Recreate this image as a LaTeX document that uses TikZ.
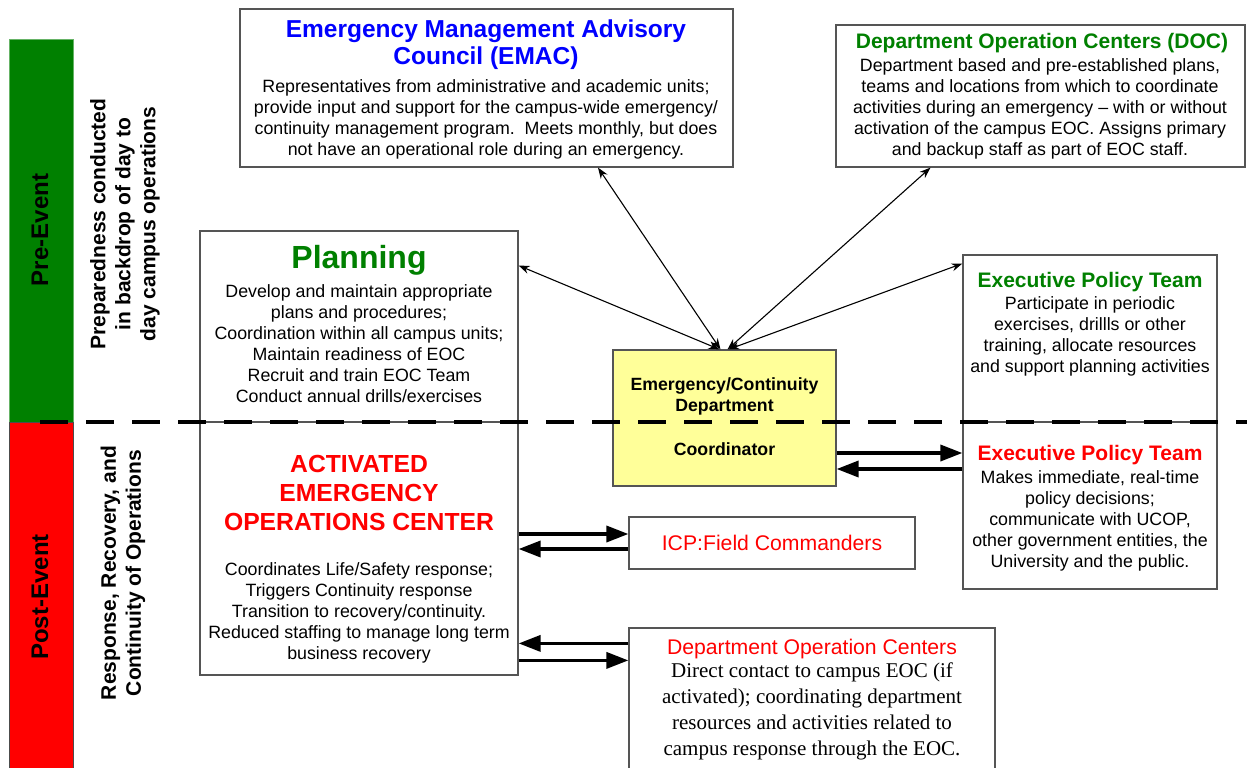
\documentclass[tikz,border=0pt]{standalone}
\usepackage{fontspec}
\setmainfont{Liberation Sans}
\newfontfamily\timesfont{Liberation Serif}
\usetikzlibrary{arrows.meta}

\definecolor{ttlgreen}{HTML}{008000}
\definecolor{ttlblue}{HTML}{0000FF}
\definecolor{ttlred}{HTML}{FF0000}
\definecolor{coordfill}{HTML}{FFFF99}
\definecolor{boxline}{HTML}{555555}

\tikzset{
  box/.style={draw=boxline, line width=1.2pt, fill=white, inner sep=0pt},
  phase/.style={rotate=90, font=\fontsize{24}{28}\selectfont\bfseries},
  side/.style={rotate=90, align=center, font=\fontsize{21}{25}\selectfont\bfseries},
  ttl/.style={align=center, inner sep=0pt, font=\fontsize{21}{24}\selectfont\bfseries},
  body/.style={align=center, inner sep=0pt, font=\fontsize{17.8}{21}\selectfont},
  thin arrow/.style={line width=1.1pt, {Stealth[length=11pt,width=8pt]}-{Stealth[length=11pt,width=8pt]}},
  fat arrow/.style={line width=3.5pt, -{Triangle[length=22pt,width=16pt]}},
}

\begin{document}
\begin{tikzpicture}[x=1pt,y=-1pt]
  \useasboundingbox (0,0) rectangle (1247,768);
  \clip (0,0) rectangle (1247,768);

  % phase bars on the left
  \filldraw[fill=ttlgreen, draw=ttlgreen!60!white, line width=1pt] (9,40) rectangle (73,422);
  \filldraw[fill=ttlred, draw=black!70, line width=1pt] (9,422) rectangle (73,790);
  \node[phase] (pre) at (40,230) {Pre-Event};
  \node[phase] (post) at (40,597) {Post-Event};
  \node[side] (preT) at (125,224) {Preparedness conducted\\in backdrop of day to\\day campus operations};
  \node[side] (postT) at (123,573) {Response, Recovery, and\\Continuity of Operations};

  % boxes
  \node[box, minimum width=493pt, minimum height=158pt] (emac) at (486.5,88) {};
  \node[box, minimum width=409pt, minimum height=142pt] (docA) at (1040.5,96) {};
  \node[box, minimum width=318pt, minimum height=191pt] (plan) at (359,326.5) {};
  \node[box, minimum width=318pt, minimum height=253pt] (eoc) at (359,548.5) {};
  \node[box, minimum width=254pt, minimum height=167pt] (eptA) at (1090,338.5) {};
  \node[box, minimum width=254pt, minimum height=167pt] (eptB) at (1090,505.5) {};
  \node[box, fill=coordfill, minimum width=223pt, minimum height=136pt] (coord) at (724.5,418) {};
  \node[box, minimum width=286pt, minimum height=52pt] (icp) at (772,543) {};
  \node[box, minimum width=366pt, minimum height=172pt] (docB) at (812,714) {};

  % pre / post divider
  \draw[line width=4pt, dash pattern=on 28pt off 18pt] (40,422) -- (1247,422);

  % texts
  \node[ttl, text=ttlblue, font=\fontsize{24.5}{27}\selectfont\bfseries] (emacT) at (486,44.5) {Emergency Management Advisory\\Council (EMAC)};
  \node[body] (emacB) at (486,119.5) {Representatives from administrative and academic units;\\provide input and support for the campus-wide emergency/\\continuity management program.\ \ Meets monthly, but does\\not have an operational role during an emergency.};

  \node[ttl, text=ttlgreen] (docAT) at (1042,43) {Department Operation Centers (DOC)};
  \node[body] (docAB) at (1040,108.5) {Department based and pre-established plans,\\teams and locations from which to coordinate\\activities during an emergency – with or without\\activation of the campus EOC. Assigns primary\\and backup staff as part of EOC staff.};

  \node[ttl, text=ttlgreen, font=\fontsize{32}{36}\selectfont\bfseries] (planT) at (359,260) {Planning};
  \node[body] (planB) at (359,343.5) {Develop and maintain appropriate\\plans and procedures;\\Coordination within all campus units;\\Maintain readiness of EOC\\Recruit and train EOC Team\\Conduct annual drills/exercises};

  \node[ttl, text=ttlred, font=\fontsize{24.7}{29}\selectfont\bfseries] (eocT) at (359,493) {ACTIVATED\\EMERGENCY\\OPERATIONS CENTER};
  \node[body] (eocB) at (359,613) {Coordinates Life/Safety response;\\Triggers Continuity response\\Transition to recovery/continuity.\\Reduced staffing to manage long term\\business recovery};

  \node[ttl, text=ttlgreen] (eptAT) at (1090,282) {Executive Policy Team};
  \node[body] (eptAB) at (1090,336.5) {Participate in periodic\\exercises, drillls or other\\training, allocate resources\\and support planning activities};

  \node[ttl, text=ttlred] (eptBT) at (1090,455) {Executive Policy Team};
  \node[body] (eptBB) at (1090,521) {Makes immediate, real-time\\policy decisions;\\communicate with UCOP,\\other government entities, the\\University and the public.};

  \node[ttl, font=\fontsize{17.7}{21}\selectfont\bfseries] (coordT) at (724.5,396.5) {Emergency/Continuity\\Department};
  \node[ttl, font=\fontsize{17.7}{21}\selectfont\bfseries] (coordB) at (724.5,449) {Coordinator};

  \node[body, text=ttlred, font=\fontsize{21.2}{24}\selectfont] (icpT) at (772,543) {ICP:Field Commanders};

  \node[body, text=ttlred, font=\fontsize{21.2}{24}\selectfont] (docBT) at (812,649) {Department Operation Centers};
  \node[body, font=\timesfont\fontsize{21}{26}\selectfont] (docBB) at (812,711) {Direct contact to campus EOC (if\\activated); coordinating department\\resources and activities related to\\campus response through the EOC.};

  % links to the coordinator
  \draw[thin arrow] ([xshift=111.5pt]emac.south) -- ([xshift=-4pt]coord.north);
  \draw[thin arrow] ([yshift=61pt]plan.east) -- ([xshift=-5pt]coord.north);
  \draw[thin arrow] ([xshift=-110pt]docA.south) -- ([xshift=3pt]coord.north);
  \draw[thin arrow] ([yshift=75pt]eptA.west) -- ([xshift=4pt]coord.north);

  % two-way links during the event
  \coordinate (c1) at ([yshift=-35pt]coord.east);
  \coordinate (c2) at ([yshift=-51pt]coord.east);
  \draw[fat arrow] (c1) -- (c1 -| eptB.west);
  \draw[fat arrow] (c2 -| eptB.west) -- (c2);

  \coordinate (i1) at ([yshift=9pt]icp.west);
  \coordinate (i2) at ([yshift=-6pt]icp.west);
  \draw[fat arrow] (i1 -| eoc.east) -- (i1);
  \draw[fat arrow] (i2) -- (i2 -| eoc.east);

  \coordinate (d1) at ([yshift=-16pt]docB.north west);
  \coordinate (d2) at ([yshift=-33pt]docB.north west);
  \draw[fat arrow] (d1) -- (d1 -| eoc.east);
  \draw[fat arrow] (d2 -| eoc.east) -- (d2);
\end{tikzpicture}
\end{document}
